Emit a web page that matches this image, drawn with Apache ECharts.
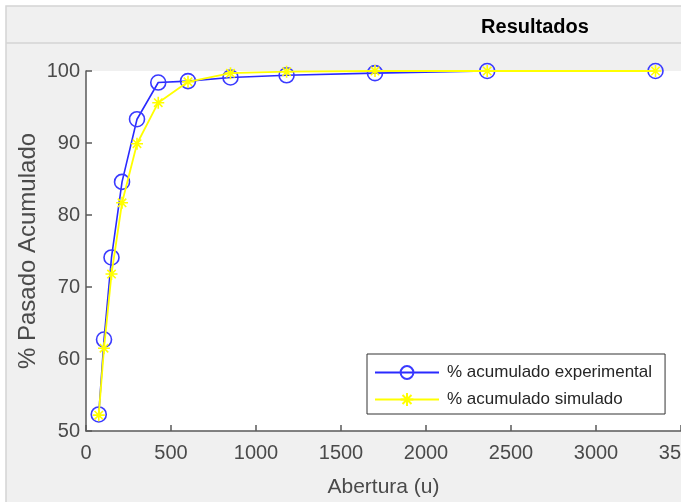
<!DOCTYPE html>
<html>
<head>
<meta charset="utf-8">
<script src="https://cdn.jsdelivr.net/npm/echarts@6/dist/echarts.min.js"></script>
<style>
html,body{margin:0;padding:0;background:#fff;}
#chart{width:681px;height:502px;}
</style>
</head>
<body>
<div id="chart"></div>
<script>
const aperturas = [75, 106, 150, 212, 300, 425, 600, 850, 1180, 1700, 2360, 3350];
const experimental = [52.3, 62.7, 74.1, 84.6, 93.3, 98.4, 98.6, 99.1, 99.4, 99.7, 100, 100];
const simulado = [52.2, 61.5, 71.8, 81.7, 89.9, 95.6, 98.5, 99.7, 99.9, 100, 100, 100];
const xTicks = [0, 500, 1000, 1500, 2000, 2500, 3000, 3500];
const yTicks = [50, 60, 70, 80, 90, 100];
const seriesNames = ['% acumulado experimental', '% acumulado simulado'];

const FONT = "'Liberation Sans', Arial, sans-serif";
const TXT = '#4a4a4a';
const AX = '#5a5a5a';
const star = 'path://M0,-6L0,6M-6,0L6,0M-4.2,-4.2L4.2,4.2M-4.2,4.2L4.2,-4.2';

const chart = echarts.init(document.getElementById('chart'), null, {renderer: 'canvas'});
chart.setOption({
  animation: false,
  backgroundColor: '#ffffff',
  graphic: [
    {type: 'rect', z: -10, silent: true, shape: {x: 6, y: 6, width: 700, height: 520},
     style: {fill: '#f0f0f0', stroke: '#d4d4d4', lineWidth: 1.5}},
    {type: 'line', z: -9, silent: true, shape: {x1: 6, y1: 43, x2: 690, y2: 43},
     style: {stroke: '#d4d4d4', lineWidth: 1.5}}
  ],
  title: {
    text: 'Resultados', left: 530, top: 12, textAlign: 'center',
    textStyle: {fontFamily: FONT, fontWeight: 'bold', fontSize: 20, color: '#000'}
  },
  grid: {left: 86, top: 71, width: 595, height: 360, show: true, backgroundColor: '#ffffff',
         borderWidth: 0, containLabel: false, outerBoundsMode: 'none'},
  legend: {
    orient: 'vertical', left: 367, top: 354, padding: [10, 13, 6, 7], itemGap: 10,
    itemWidth: 64, itemHeight: 16,
    backgroundColor: '#ffffff', borderColor: '#333333', borderWidth: 1, borderRadius: 0,
    textStyle: {fontFamily: FONT, fontSize: 17, lineHeight: 16, color: '#262626', padding: [0, 0, 0, 3]},
    data: seriesNames
  },
  xAxis: {
    type: 'value', min: 0, max: 3500, interval: 500,
    name: 'Abertura (u)', nameLocation: 'middle', nameGap: 46, nameMoveOverlap: false,
    nameTextStyle: {fontFamily: FONT, fontSize: 21, color: TXT},
    axisLine: {show: true, lineStyle: {color: AX, width: 1.5}},
    axisTick: {show: true, inside: true, length: 6, lineStyle: {color: AX, width: 1.5}},
    axisLabel: {fontFamily: FONT, fontSize: 20, color: TXT, margin: 12,
      formatter: v => xTicks.includes(v) ? String(v) : ''},
    splitLine: {show: false}
  },
  yAxis: {
    type: 'value', min: 50, max: 100, interval: 10,
    name: '% Pasado Acumulado', nameLocation: 'middle', nameGap: 46, nameMoveOverlap: false,
    nameTextStyle: {fontFamily: FONT, fontSize: 24, color: TXT},
    axisLine: {show: true, lineStyle: {color: AX, width: 1.5}},
    axisTick: {show: true, inside: true, length: 6, lineStyle: {color: AX, width: 1.5}},
    axisLabel: {fontFamily: FONT, fontSize: 20, color: TXT, margin: 6,
      formatter: v => yTicks.includes(v) ? String(v) : ''},
    splitLine: {show: false}
  },
  series: [
    {
      name: seriesNames[0], type: 'line',
      data: aperturas.map((x, i) => [x, experimental[i]]),
      symbol: 'circle', symbolSize: 15, showSymbol: true,
      lineStyle: {color: '#2a2aff', width: 1.6},
      itemStyle: {color: 'rgba(0,0,0,0)', borderColor: '#3a3aff', borderWidth: 1.6},
      z: 2
    },
    {
      name: seriesNames[1], type: 'line',
      data: aperturas.map((x, i) => [x, simulado[i]]),
      symbol: star, symbolSize: 12, showSymbol: true,
      lineStyle: {color: '#ffff00', width: 1.8},
      itemStyle: {color: 'rgba(0,0,0,0)', borderColor: '#ffff00', borderWidth: 1.6},
      z: 3
    }
  ]
});
</script>
</body>
</html>
